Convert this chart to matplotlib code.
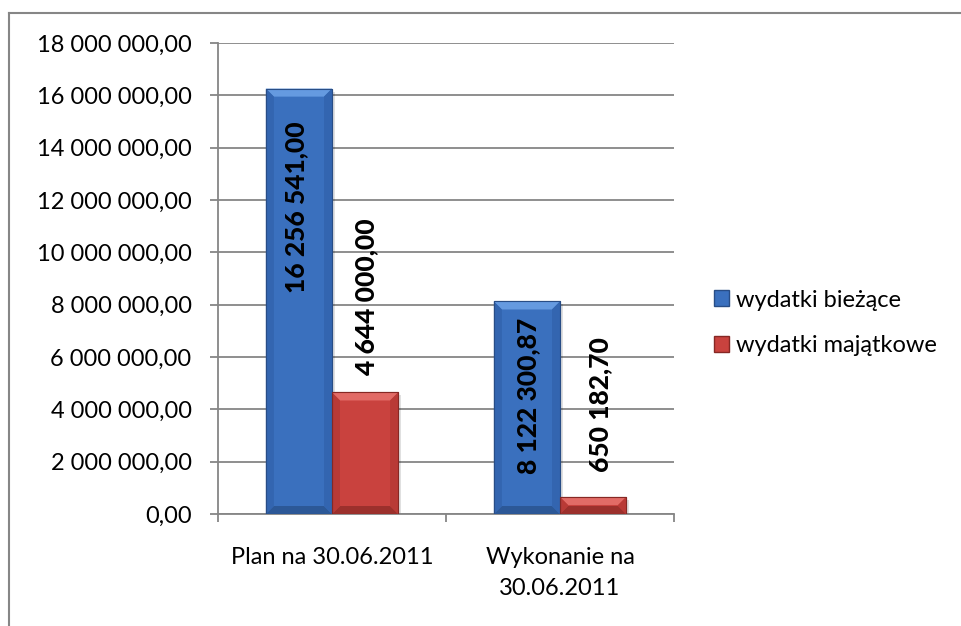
import numpy as np
import matplotlib
matplotlib.use("Agg")
import matplotlib.pyplot as plt
from matplotlib.patches import Polygon, Patch
from matplotlib.lines import Line2D
from matplotlib.transforms import IdentityTransform

plt.rcParams['font.family'] = ['Lato', 'DejaVu Sans']

# data
categories = ["Plan na 30.06.2011", "Wykonanie na\n30.06.2011"]
series_names = ["wydatki bieżące", "wydatki majątkowe"]
biezace = [16256541.00, 8122300.87]
majatkowe = [4644000.00, 650182.70]
y_ticks = np.arange(0, 18000001, 2000000)

# styling
face = {"blue": "#3a70be", "red": "#c9423e"}
top_c = {"blue": "#659ae0", "red": "#e26b66"}
side_c = {"blue": "#3365b0", "red": "#b93a36"}
bot_c = {"blue": "#2c5897", "red": "#9c302c"}
edge_c = {"blue": "#284d86", "red": "#862824"}
# label centre offsets in pixels (dx, dy from bar top)
label_offsets = [[(-3, -119), (1, 96)], [(1, -94), (7, 92)]]

fmt = lambda v: f"{v:,.2f}".replace(",", " ").replace(".", ",")

fig = plt.figure(figsize=(9.62, 6.26), dpi=100)
ax = fig.add_axes([218 / 962, 112 / 626, (674 - 218) / 962, (583 - 112) / 626])

x = np.arange(len(categories))
w = 0.29
ax.set_xlim(-0.5, 1.5)
ax.set_ylim(0, 18000000)

bars_b = ax.bar(x - w / 2, biezace, w, color=face["blue"], edgecolor=edge_c["blue"], linewidth=0.8, zorder=3)
bars_r = ax.bar(x + w / 2, majatkowe, w, color=face["red"], edgecolor=edge_c["red"], linewidth=0.8, zorder=3)

# bevel effect drawn in pixel space
b = 8
for bars, key in [(bars_b, "blue"), (bars_r, "red")]:
    for p in bars:
        x0, y0 = ax.transData.transform((p.get_x(), 0))
        x1, y1 = ax.transData.transform((p.get_x() + p.get_width(), p.get_height()))
        bb = min(b, (y1 - y0) / 2)
        # shadow
        ax.add_patch(Polygon([(x0 + 3, y0 - 3), (x1 + 3, y0 - 3), (x1 + 3, y1 - 3), (x1, y1 - 3), (x1, y0), (x0 + 3, y0)],
                             closed=True, transform=IdentityTransform(), facecolor="#000000", alpha=0.12,
                             edgecolor="none", zorder=2))
        polys = [
            ([(x0, y1), (x1, y1), (x1 - bb, y1 - bb), (x0 + bb, y1 - bb)], top_c[key]),
            ([(x0, y0), (x1, y0), (x1 - bb, y0 + bb), (x0 + bb, y0 + bb)], bot_c[key]),
            ([(x0, y0), (x0 + bb, y0 + bb), (x0 + bb, y1 - bb), (x0, y1)], side_c[key]),
            ([(x1, y0), (x1 - bb, y0 + bb), (x1 - bb, y1 - bb), (x1, y1)], side_c[key]),
        ]
        for pts, c in polys:
            ax.add_patch(Polygon(pts, closed=True, transform=IdentityTransform(), facecolor=c,
                                 edgecolor="none", zorder=4))
        ax.add_patch(Polygon([(x0, y0), (x1, y0), (x1, y1), (x0, y1)], closed=True,
                             transform=IdentityTransform(), facecolor="none",
                             edgecolor=edge_c[key], linewidth=0.8, zorder=5))

# data labels
for j, (bars, vals) in enumerate([(bars_b, biezace), (bars_r, majatkowe)]):
    for i, (p, v) in enumerate(zip(bars, vals)):
        dx, dy = label_offsets[i][j]
        ax.annotate(fmt(v), (p.get_x() + p.get_width() / 2, v), xytext=(dx * 0.72, dy * 0.72),
                    textcoords="offset points", rotation=90, ha="center", va="center",
                    fontsize=19, fontweight="black", color="black", zorder=6)

# axes styling
grey = "#868686"
ax.set_yticks(y_ticks)
ax.set_yticklabels([fmt(v) for v in y_ticks])
ax.yaxis.grid(True, color=grey, linewidth=1.3, zorder=0)
ax.set_axisbelow(True)
ax.tick_params(axis="y", length=6, width=1.3, color=grey, pad=13, labelsize=17)
ax.set_xticks([-0.5, 0.5, 1.5])
ax.set_xticklabels([])
ax.set_xticks(x, minor=True)
ax.set_xticklabels(categories, minor=True, linespacing=1.55)
ax.tick_params(axis="x", which="major", length=6, width=1.3, color=grey)
ax.tick_params(axis="x", which="minor", length=0, pad=24, labelsize=17)
for s in ["top", "right"]:
    ax.spines[s].set_visible(False)
for s in ["left", "bottom"]:
    ax.spines[s].set_color(grey)
    ax.spines[s].set_linewidth(1.3)

# legend
handles = [Patch(facecolor=face["blue"], edgecolor=edge_c["blue"]),
           Patch(facecolor=face["red"], edgecolor=edge_c["red"])]
fig.legend(handles, series_names, loc="center left", bbox_to_anchor=(714 / 962, 303 / 626),
           frameon=False, fontsize=17, handlelength=0.65, handleheight=0.65,
           handletextpad=0.3, labelspacing=1.05, borderpad=0, borderaxespad=0)

# outer chart border (top and left visible)
fig.add_artist(Line2D([9 / 962, 1.0], [1 - 13 / 626, 1 - 13 / 626], color=grey, linewidth=1.5))
fig.add_artist(Line2D([9 / 962, 9 / 962], [0, 1 - 13 / 626], color=grey, linewidth=1.5))

fig.savefig("out.png", dpi=100)
